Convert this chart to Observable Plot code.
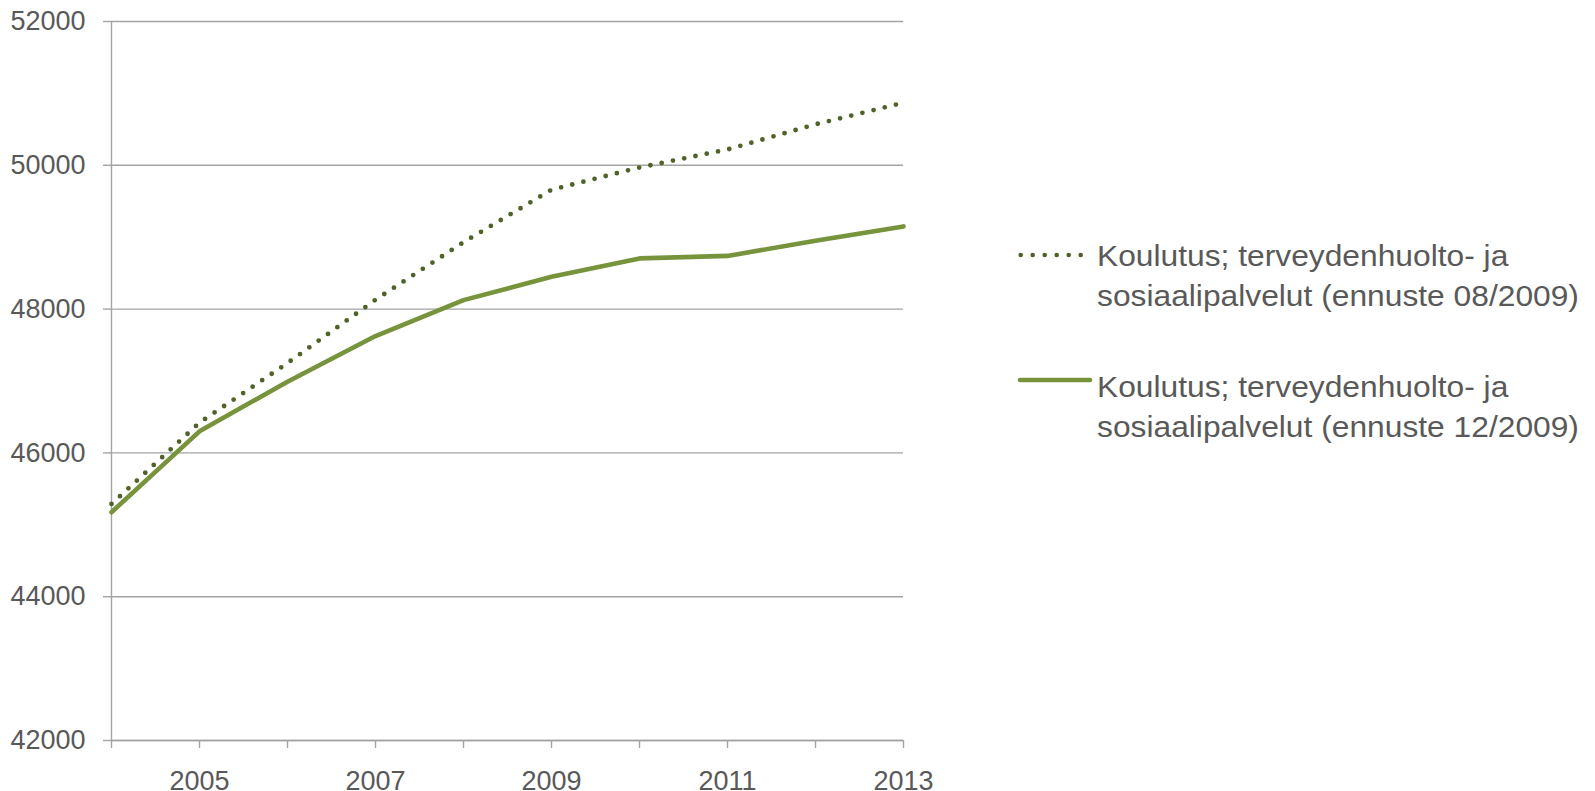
<!DOCTYPE html>
<html>
<head>
<meta charset="utf-8">
<script src="https://cdn.jsdelivr.net/npm/d3@7"></script>
<script src="https://cdn.jsdelivr.net/npm/@observablehq/plot@0.6"></script>
<style>
  html, body { margin: 0; padding: 0; background: #fff; }
  #wrap { position: relative; width: 1595px; height: 791px; overflow: hidden; font-family: "Liberation Sans", Arial, sans-serif; }
  .leg { position: absolute; left: 1097px; font-size: 29px; line-height: 40px; color: #595959; white-space: nowrap; transform: scaleX(1.095); transform-origin: 0 0; }
  .sw { position: absolute; }
</style>
</head>
<body>
<div id="wrap"></div>
<script>
const years = [2004, 2005, 2006, 2007, 2008, 2009, 2010, 2011, 2012, 2013];
const forecastAug = [45290, 46420, 47250, 48130, 48930, 49660, 49970, 50220, 50570, 50870];
const forecastDec = [45175, 46300, 46990, 47625, 48125, 48450, 48705, 48740, 48950, 49150];
const yTicks = [42000, 44000, 46000, 48000, 50000, 52000];
const xLabels = [2005, 2007, 2009, 2011, 2013];
const seriesNames = [
  ["Koulutus; terveydenhuolto- ja", "sosiaalipalvelut (ennuste 08/2009)"],
  ["Koulutus; terveydenhuolto- ja", "sosiaalipalvelut (ennuste 12/2009)"]
];

const augColor = "#4f6228";
const decColor = "#77933c";
const gridColor = "#a3a3a3";
const textColor = "#595959";

const rowsAug = years.map((y, i) => ({year: y, value: forecastAug[i]}));
const rowsDec = years.map((y, i) => ({year: y, value: forecastDec[i]}));

const chart = Plot.plot({
  width: 1595,
  height: 791,
  marginLeft: 111,
  marginRight: 692,
  marginTop: 21,
  marginBottom: 51,
  style: {fontFamily: "'Liberation Sans', Arial, sans-serif", fontSize: "27px", color: textColor, background: "white"},
  x: {domain: [2004, 2013]},
  y: {domain: [42000, 52000]},
  marks: [
    Plot.gridY(yTicks, {stroke: gridColor, strokeOpacity: 1, strokeWidth: 1.4}),
    Plot.axisY(yTicks, {tickSize: 8, tickPadding: 18, tickFormat: d => String(d), stroke: gridColor, fill: textColor, fontSize: 27, label: null, strokeWidth: 1.4}),
    Plot.axisX(years, {tickSize: 8, tickPadding: 22, tickFormat: d => xLabels.includes(d) ? String(d) : "", stroke: gridColor, fill: textColor, fontSize: 27, label: null, strokeWidth: 1.4}),
    Plot.ruleX([2004], {stroke: gridColor, strokeWidth: 1.4}),
    Plot.ruleY([42000], {stroke: gridColor, strokeWidth: 1.4}),
    Plot.lineY(rowsDec, {x: "year", y: "value", stroke: decColor, strokeWidth: 4.6, strokeLinejoin: "round"}),
    Plot.lineY(rowsAug, {x: "year", y: "value", stroke: augColor, strokeWidth: 4.8, strokeDasharray: "0 11.5", strokeLinecap: "round"})
  ]
});

const wrap = document.getElementById("wrap");
wrap.appendChild(chart);

// Legend (HTML overlay to the right of the plot)
const legTops = [236, 367];
const swatchY = [255, 380];
seriesNames.forEach((lines, i) => {
  const d = document.createElement("div");
  d.className = "leg";
  d.style.top = legTops[i] + "px";
  d.innerHTML = lines.join("<br>");
  wrap.appendChild(d);
  const s = document.createElementNS("http://www.w3.org/2000/svg", "svg");
  s.setAttribute("class", "sw");
  s.setAttribute("width", 80);
  s.setAttribute("height", 12);
  s.style.left = "1015px";
  s.style.top = (swatchY[i] - 6) + "px";
  const l = document.createElementNS("http://www.w3.org/2000/svg", "line");
  if (i === 0) {
    l.setAttribute("x1", 5.7); l.setAttribute("x2", 67);
    l.setAttribute("stroke", augColor);
    l.setAttribute("stroke-width", 4.6);
    l.setAttribute("stroke-dasharray", "0 12");
    l.setAttribute("stroke-linecap", "round");
  } else {
    l.setAttribute("x1", 5); l.setAttribute("x2", 75);
    l.setAttribute("stroke", decColor);
    l.setAttribute("stroke-width", 4.6);
    l.setAttribute("stroke-linecap", "round");
  }
  l.setAttribute("y1", 6); l.setAttribute("y2", 6);
  s.appendChild(l);
  wrap.appendChild(s);
});
</script>
</body>
</html>
